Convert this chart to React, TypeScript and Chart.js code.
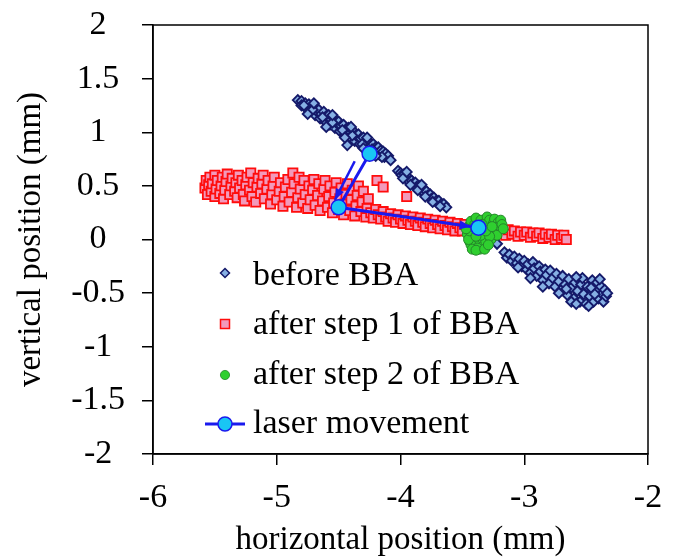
import React, { useEffect, useRef } from 'react';
import { Chart, registerables } from 'chart.js';
Chart.register(...registerables);

const FONT = '"Liberation Serif", "Times New Roman", serif';

const xTicks = [-6, -5, -4, -3, -2];
const yTicks = [-2, -1.5, -1, -0.5, 0, 0.5, 1, 1.5, 2];
const xTitle = 'horizontal position (mm)';
const yTitle = 'vertical position (mm)';
const legendLabels = ['before BBA', 'after step 1 of BBA', 'after step 2 of BBA', 'laser movement'];

const beforeBBA: number[][] = [
  [-4.83, 1.30], [-4.80, 1.29], [-4.80, 1.25], [-4.77, 1.27], [-4.76, 1.22], [-4.74, 1.26], [-4.73, 1.20], [-4.72, 1.24],
  [-4.70, 1.23], [-4.69, 1.16], [-4.68, 1.20], [-4.66, 1.21], [-4.65, 1.13], [-4.64, 1.17], [-4.62, 1.19], [-4.61, 1.10],
  [-4.60, 1.15], [-4.58, 1.16], [-4.57, 1.07], [-4.56, 1.12], [-4.54, 1.13], [-4.53, 1.04], [-4.52, 1.09], [-4.50, 1.10],
  [-4.49, 1.01], [-4.48, 1.06], [-4.46, 1.07], [-4.45, 0.98], [-4.44, 1.03], [-4.42, 1.04], [-4.41, 0.95], [-4.40, 1.00],
  [-4.43, 0.88], [-4.38, 1.01], [-4.37, 0.92], [-4.36, 0.97], [-4.34, 0.98], [-4.33, 0.89], [-4.32, 0.94], [-4.30, 0.95],
  [-4.29, 0.87], [-4.28, 0.91], [-4.26, 0.92], [-4.25, 0.85], [-4.24, 0.89], [-4.22, 0.89], [-4.21, 0.82], [-4.20, 0.86],
  [-4.18, 0.86], [-4.17, 0.79], [-4.16, 0.83], [-4.14, 0.82], [-4.13, 0.77], [-4.12, 0.80], [-4.10, 0.78], [-4.08, 0.74],
  [-4.78, 1.25], [-4.71, 1.21], [-4.63, 1.14], [-4.55, 1.09], [-4.47, 1.02], [-4.39, 0.97], [-4.31, 0.89], [-4.23, 0.84],
  [-4.15, 0.77], [-4.75, 1.17], [-4.60, 1.05], [-4.45, 0.95], [-4.30, 0.85], [-4.20, 0.78], [-4.70, 1.27], [-4.55, 1.16],
  [-4.40, 1.05], [-4.27, 0.95],
  [-4.02, 0.64], [-4.00, 0.62], [-3.99, 0.60], [-3.97, 0.61], [-3.96, 0.57], [-3.94, 0.58], [-3.93, 0.54], [-3.91, 0.55],
  [-3.90, 0.52], [-3.88, 0.53], [-3.87, 0.49], [-3.85, 0.50], [-3.84, 0.46], [-3.82, 0.48], [-3.81, 0.44], [-3.79, 0.45],
  [-3.78, 0.41], [-3.76, 0.42], [-3.75, 0.38], [-3.73, 0.39], [-3.71, 0.36], [-3.69, 0.36], [-3.67, 0.33], [-3.65, 0.33],
  [-3.63, 0.30], [-3.98, 0.57], [-3.92, 0.51], [-3.86, 0.46], [-3.80, 0.40], [-3.74, 0.35], [-3.68, 0.31], [-3.95, 0.63],
  [-3.83, 0.51],
  [-3.22, -0.04],
  [-3.16, -0.12], [-3.14, -0.17], [-3.12, -0.14], [-3.10, -0.20], [-3.08, -0.16], [-3.06, -0.22], [-3.04, -0.18], [-3.02, -0.25],
  [-3.00, -0.20], [-2.98, -0.28], [-2.97, -0.23], [-2.95, -0.31], [-2.93, -0.21], [-2.92, -0.27], [-2.90, -0.34], [-2.88, -0.25],
  [-2.87, -0.30], [-2.85, -0.38], [-2.83, -0.28], [-2.82, -0.33], [-2.80, -0.41], [-2.79, -0.29], [-2.77, -0.36], [-2.75, -0.44],
  [-2.74, -0.32], [-2.72, -0.39], [-2.70, -0.47], [-2.69, -0.34], [-2.67, -0.42], [-2.65, -0.52], [-2.64, -0.37], [-2.62, -0.45],
  [-2.60, -0.55], [-2.59, -0.40], [-2.57, -0.48], [-2.55, -0.58], [-2.54, -0.42], [-2.52, -0.51], [-2.50, -0.60], [-2.49, -0.44],
  [-2.47, -0.53], [-2.45, -0.38], [-2.44, -0.58], [-2.42, -0.47], [-2.41, -0.40], [-2.40, -0.55], [-2.38, -0.44], [-2.37, -0.51],
  [-2.36, -0.58], [-2.35, -0.47], [-2.34, -0.53], [-2.46, -0.45], [-2.53, -0.36],
  [-3.05, -0.26], [-2.95, -0.36], [-2.85, -0.44], [-2.72, -0.50], [-2.62, -0.58], [-2.58, -0.35], [-2.48, -0.62], [-2.43, -0.51],
  [-2.39, -0.37], [-2.33, -0.50], [-2.58, -0.60], [-2.66, -0.46],
];

const afterStep1: number[][] = [
  [-5.58, 0.48], [-5.57, 0.55], [-5.56, 0.42], [-5.55, 0.51], [-5.54, 0.58], [-5.53, 0.45], [-5.52, 0.52], [-5.50, 0.40],
  [-5.50, 0.60], [-5.49, 0.47], [-5.48, 0.55], [-5.46, 0.43], [-5.45, 0.50], [-5.44, 0.58], [-5.43, 0.38], [-5.42, 0.46],
  [-5.41, 0.54], [-5.40, 0.61], [-5.38, 0.42], [-5.37, 0.50], [-5.36, 0.57], [-5.34, 0.45], [-5.33, 0.53], [-5.32, 0.39],
  [-5.31, 0.60], [-5.30, 0.48], [-5.28, 0.55], [-5.27, 0.42], [-5.26, 0.36], [-5.25, 0.51], [-5.24, 0.58], [-5.22, 0.46],
  [-5.21, 0.62], [-5.20, 0.40], [-5.19, 0.53], [-5.17, 0.35], [-5.16, 0.49], [-5.15, 0.57], [-5.13, 0.43], [-5.12, 0.52],
  [-5.11, 0.60], [-5.10, 0.38], [-5.08, 0.47], [-5.07, 0.55], [-5.05, 0.33], [-5.04, 0.42], [-5.03, 0.50], [-5.02, 0.58],
  [-5.00, 0.37], [-4.98, 0.45], [-4.97, 0.53], [-4.95, 0.31], [-4.94, 0.40], [-4.93, 0.49], [-4.91, 0.56], [-4.90, 0.35],
  [-4.88, 0.44], [-4.87, 0.62], [-4.86, 0.52], [-4.84, 0.30], [-4.83, 0.39], [-4.82, 0.58], [-4.81, 0.47], [-4.79, 0.34],
  [-4.78, 0.55], [-4.77, 0.42], [-4.75, 0.29], [-4.74, 0.50], [-4.73, 0.37], [-4.71, 0.46], [-4.70, 0.56], [-4.69, 0.32],
  [-4.67, 0.41], [-4.66, 0.52], [-4.65, 0.27], [-4.63, 0.36], [-4.62, 0.47], [-4.61, 0.55], [-4.59, 0.30], [-4.58, 0.40],
  [-4.57, 0.50], [-4.55, 0.25], [-4.54, 0.34], [-4.53, 0.44], [-4.52, 0.53], [-4.50, 0.28], [-4.49, 0.38], [-4.48, 0.48],
  [-4.46, 0.23], [-4.45, 0.33], [-4.44, 0.42], [-4.43, 0.52], [-4.41, 0.27], [-4.40, 0.37], [-4.39, 0.46], [-4.37, 0.22],
  [-4.36, 0.31], [-4.35, 0.41], [-4.34, 0.50], [-4.32, 0.26], [-4.31, 0.35], [-4.30, 0.45], [-4.28, 0.21], [-4.27, 0.29],
  [-4.26, 0.38], [-4.19, 0.55], [-4.14, 0.49], [-3.95, 0.40],
  [-4.24, 0.25], [-4.22, 0.20], [-4.20, 0.28], [-4.18, 0.23], [-4.16, 0.19], [-4.14, 0.26], [-4.12, 0.21], [-4.10, 0.17],
  [-4.08, 0.24], [-4.06, 0.20], [-4.04, 0.16], [-4.02, 0.23], [-4.00, 0.19], [-3.98, 0.15], [-3.96, 0.22], [-3.94, 0.18],
  [-3.92, 0.14], [-3.90, 0.21], [-3.88, 0.17], [-3.86, 0.13], [-3.84, 0.20], [-3.82, 0.16], [-3.80, 0.12], [-3.78, 0.19],
  [-3.76, 0.15], [-3.74, 0.11], [-3.72, 0.18], [-3.70, 0.14], [-3.68, 0.10], [-3.66, 0.17], [-3.64, 0.13], [-3.62, 0.09],
  [-3.60, 0.16], [-3.58, 0.12], [-3.56, 0.08], [-3.54, 0.15], [-3.52, 0.11], [-3.50, 0.08], [-3.48, 0.14],
  [-3.45, 0.10], [-3.40, 0.12], [-3.35, 0.09], [-3.30, 0.11], [-3.25, 0.07], [-3.20, 0.09],
  [-3.18, 0.08], [-3.15, 0.04], [-3.13, 0.09], [-3.10, 0.05], [-3.08, 0.08], [-3.05, 0.03], [-3.03, 0.07], [-3.00, 0.04],
  [-2.98, 0.07], [-2.95, 0.02], [-2.93, 0.06], [-2.90, 0.03], [-2.88, 0.06], [-2.85, 0.01], [-2.83, 0.05], [-2.80, 0.02],
  [-2.78, 0.05], [-2.75, 0.00], [-2.73, 0.04], [-2.70, 0.01], [-2.68, 0.04], [-2.66, 0.00],
];

const afterStep2: number[][] = [
  [-3.46, 0.05], [-3.45, 0.12], [-3.44, -0.02], [-3.43, 0.17], [-3.42, 0.08], [-3.41, -0.07], [-3.40, 0.02], [-3.40, 0.14],
  [-3.39, 0.20], [-3.38, -0.04], [-3.37, 0.06], [-3.36, -0.09], [-3.36, 0.12], [-3.35, 0.18], [-3.34, 0.01], [-3.33, -0.06],
  [-3.33, 0.09], [-3.32, 0.15], [-3.31, -0.02], [-3.30, 0.21], [-3.30, 0.05], [-3.29, 0.12], [-3.28, 0.18], [-3.27, 0.00],
  [-3.26, 0.08], [-3.25, 0.15], [-3.24, 0.19], [-3.23, 0.11], [-3.22, 0.04], [-3.21, 0.16], [-3.20, 0.13], [-3.19, 0.18],
  [-3.18, 0.14], [-3.17, 0.10], [-3.43, -0.05], [-3.38, -0.08], [-3.45, 0.00], [-3.35, 0.04], [-3.41, 0.10], [-3.28, 0.03],
  [-3.44, 0.08], [-3.39, 0.03], [-3.34, 0.14], [-3.31, 0.08], [-3.26, 0.12], [-3.42, -0.09], [-3.39, -0.10], [-3.32, -0.09],
  [-3.29, -0.05], [-3.47, 0.10],
];

const laserMovement: number[][] = [[-4.25, 0.80], [-4.50, 0.30], [-3.37, 0.11]];
const laserArrow: number[][] = [[-4.37, 0.73], [-4.53, 0.37]];

const C = {
  navy: '#151a6a',
  lightBlue: '#86b0e4',
  red: '#ff0d0d',
  pink: '#f29abb',
  green: '#2fcf2f',
  darkGreen: '#25852a',
  blue: '#1a1aee',
  cyan: '#19c6f4',
};

const pts = (a: number[][]) => a.map(([x, y]) => ({ x, y }));

function drawHead(ctx: CanvasRenderingContext2D, x1: number, y1: number, x2: number, y2: number, back: number) {
  const dx = x2 - x1, dy = y2 - y1;
  const len = Math.hypot(dx, dy);
  const ux = dx / len, uy = dy / len;
  const tx = x2 - ux * back, ty = y2 - uy * back;
  const L = 11, W = 4.5;
  ctx.beginPath();
  ctx.moveTo(tx, ty);
  ctx.lineTo(tx - ux * L - uy * W, ty - uy * L + ux * W);
  ctx.lineTo(tx - ux * L + uy * W, ty - uy * L - ux * W);
  ctx.closePath();
  ctx.fillStyle = C.blue;
  ctx.fill();
}

const decorPlugin = {
  id: 'decor',
  afterDatasetsDraw(chart: any) {
    const { ctx, scales } = chart;
    const xs = scales.x, ys = scales.y;
    ctx.save();
    const la = laserArrow.map(([x, y]) => [xs.getPixelForValue(x), ys.getPixelForValue(y)]);
    drawHead(ctx, la[0][0], la[0][1], la[1][0], la[1][1], 0);
    const lm = laserMovement.map(([x, y]) => [xs.getPixelForValue(x), ys.getPixelForValue(y)]);
    const n = lm.length;
    drawHead(ctx, lm[n - 2][0], lm[n - 2][1], lm[n - 1][0], lm[n - 1][1], 8);
    ctx.restore();
  },
  afterDraw(chart: any) {
    const { ctx, chartArea: a } = chart;
    ctx.save();
    ctx.strokeStyle = '#000';
    ctx.lineWidth = 1.5;
    ctx.strokeRect(a.left, a.top, a.right - a.left, a.bottom - a.top);

    const mx = a.left + 72;
    const tx = a.left + 100;
    const rows = [248, 299, 350, 399];
    const base = [260, 309, 359, 408];
    ctx.font = `34px ${FONT}`;
    ctx.fillStyle = '#000';
    ctx.textAlign = 'left';
    ctx.textBaseline = 'alphabetic';
    legendLabels.forEach((t, i) => {
      const y = a.top + rows[i];
      ctx.save();
      if (i === 0) {
        const r = 4.5;
        ctx.beginPath();
        ctx.moveTo(mx, y - r); ctx.lineTo(mx + r, y); ctx.lineTo(mx, y + r); ctx.lineTo(mx - r, y); ctx.closePath();
        ctx.fillStyle = C.lightBlue; ctx.fill();
        ctx.strokeStyle = C.navy; ctx.lineWidth = 1.5; ctx.stroke();
      } else if (i === 1) {
        ctx.beginPath();
        ctx.rect(mx - 4.5, y - 4.5, 9, 9);
        ctx.fillStyle = C.pink; ctx.fill();
        ctx.strokeStyle = C.red; ctx.lineWidth = 1.5; ctx.stroke();
      } else if (i === 2) {
        ctx.beginPath();
        ctx.arc(mx, y, 4.6, 0, Math.PI * 2);
        ctx.fillStyle = C.green; ctx.fill();
        ctx.strokeStyle = C.darkGreen; ctx.lineWidth = 0.8; ctx.stroke();
      } else {
        ctx.beginPath();
        ctx.moveTo(mx - 20, y); ctx.lineTo(mx + 20, y);
        ctx.strokeStyle = C.blue; ctx.lineWidth = 3; ctx.stroke();
        ctx.beginPath();
        ctx.arc(mx, y, 7, 0, Math.PI * 2);
        ctx.fillStyle = C.cyan; ctx.fill();
        ctx.strokeStyle = C.blue; ctx.lineWidth = 1.5; ctx.stroke();
      }
      ctx.restore();
      ctx.fillText(t, tx, a.top + base[i]);
    });
    ctx.restore();
  },
};

export default function App() {
  const ref = useRef<HTMLCanvasElement | null>(null);
  useEffect(() => {
    if (!ref.current) return;
    const tickFont = { family: FONT, size: 34 };
    const titleFont = { family: FONT, size: 33, lineHeight: 1 };
    const chart = new Chart(ref.current, {
      type: 'scatter',
      data: {
        datasets: [
          {
            label: legendLabels[3],
            data: pts(laserMovement),
            showLine: true,
            borderColor: C.blue,
            borderWidth: 3,
            pointRadius: 7.5,
            pointBackgroundColor: C.cyan,
            pointBorderColor: C.blue,
            pointBorderWidth: 1.5,
            order: 0,
          } as any,
          {
            label: 'arrow',
            data: pts(laserArrow),
            showLine: true,
            borderColor: C.blue,
            borderWidth: 2.5,
            pointRadius: 0,
            order: 0.5,
          } as any,
          {
            label: legendLabels[2],
            data: pts(afterStep2),
            pointStyle: 'circle',
            pointRadius: 5,
            backgroundColor: C.green,
            borderColor: C.darkGreen,
            pointBorderWidth: 1,
            order: 1,
          },
          {
            label: legendLabels[1],
            data: pts(afterStep1),
            pointStyle: 'rect',
            pointRadius: 6.5,
            backgroundColor: C.pink,
            borderColor: C.red,
            pointBorderWidth: 1.8,
            order: 2,
          },
          {
            label: legendLabels[0],
            data: pts(beforeBBA),
            pointStyle: 'rectRot',
            pointRadius: 5,
            backgroundColor: C.lightBlue,
            borderColor: C.navy,
            pointBorderWidth: 1.9,
            order: 3,
          },
        ],
      },
      options: {
        responsive: true,
        maintainAspectRatio: false,
        animation: false,
        layout: { padding: { top: 25, right: 25, left: 0, bottom: 0 } },
        plugins: { legend: { display: false }, tooltip: { enabled: false } },
        scales: {
          x: {
            type: 'linear',
            min: -6,
            max: -2,
            afterFit: (s: any) => { s.height = 105; s.paddingLeft = 0; s.paddingRight = 0; },
            afterBuildTicks: (s: any) => { s.ticks = xTicks.map((v) => ({ value: v })); },
            ticks: { font: tickFont, color: '#000', padding: 13, maxRotation: 0, callback: (v: any) => String(v) },
            grid: { display: true, drawOnChartArea: false, drawTicks: true, tickLength: 11, color: '#000', lineWidth: 1.5 },
            border: { display: true, color: '#000', width: 1.5 },
            title: { display: true, text: xTitle, color: '#000', font: titleFont, padding: { top: 0, bottom: 2 } },
          },
          y: {
            type: 'linear',
            min: -2,
            max: 2,
            afterFit: (s: any) => { s.width = 153; s.paddingTop = 0; s.paddingBottom = 0; },
            afterBuildTicks: (s: any) => { s.ticks = yTicks.map((v) => ({ value: v })); },
            ticks: { font: tickFont, color: '#000', padding: 17, crossAlign: 'center', callback: (v: any) => String(v) },
            grid: { display: true, drawOnChartArea: false, drawTicks: true, tickLength: 11, color: '#000', lineWidth: 1.5 },
            border: { display: true, color: '#000', width: 1.5 },
            title: { display: true, text: yTitle, color: '#000', font: titleFont, padding: { top: 15, bottom: 0 } },
          },
        },
      } as any,
      plugins: [decorPlugin],
    });
    return () => chart.destroy();
  }, []);
  return (
    <div style={{ position: 'absolute', left: 0, top: 0, width: 673, height: 559, background: '#fff' }}>
      <canvas ref={ref} />
    </div>
  );
}
